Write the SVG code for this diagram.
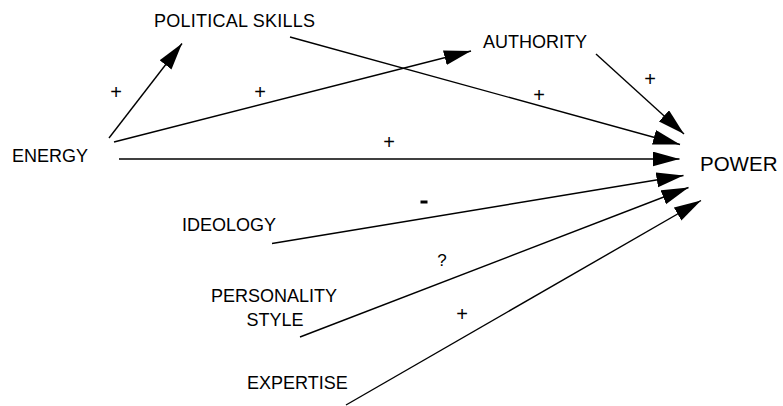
<svg xmlns="http://www.w3.org/2000/svg" width="783" height="406" viewBox="0 0 783 406">
<defs>
<style>
text{font-family:"Liberation Sans",Arial,sans-serif;fill:#000}
.n{font-size:18px}
.p{font-size:20.5px}
.l{font-size:20px;text-anchor:middle}
.q{font-size:17px;text-anchor:middle}
.c{stroke:#000;stroke-width:1.4;fill:none;marker-end:url(#ah)}
</style>
<marker id="ah" markerUnits="userSpaceOnUse" markerWidth="28" markerHeight="16" refX="27" refY="7.5" orient="auto">
<path d="M0,0 L27,7.5 L0,15 Z" fill="#000"/>
</marker>
</defs>
<rect width="783" height="406" fill="#fff"/>
<g id="connectors">
<line class="c" x1="109" y1="138" x2="182" y2="43.5"/>
<line class="c" x1="114" y1="142" x2="471" y2="51"/>
<line class="c" x1="290" y1="37" x2="680" y2="144.5"/>
<line class="c" x1="596" y1="54" x2="684" y2="134"/>
<line class="c" x1="119" y1="159" x2="679.5" y2="159"/>
<line class="c" x1="272" y1="243.5" x2="683.5" y2="175.5"/>
<line class="c" x1="300" y1="337" x2="688.5" y2="187.5"/>
<line class="c" x1="346" y1="405" x2="701" y2="200.5"/>
</g>
<g id="edge-labels">
<text class="l" x="116" y="99">+</text>
<text class="l" x="260" y="99">+</text>
<text class="l" x="389" y="149">+</text>
<text class="l" x="539" y="102">+</text>
<text class="l" x="650" y="86">+</text>
<rect x="420.5" y="200.5" width="7" height="3" fill="#000"/>
<text class="q" x="442" y="266">?</text>
<text class="l" x="462" y="321">+</text>
</g>
<g id="political-skills"><text class="n" x="154" y="27" textLength="161">POLITICAL SKILLS</text></g>
<g id="authority"><text class="n" x="483" y="48">AUTHORITY</text></g>
<g id="energy"><text class="n" x="12" y="162">ENERGY</text></g>
<g id="power"><text class="p" x="700" y="171">POWER</text></g>
<g id="ideology"><text class="n" x="182" y="231">IDEOLOGY</text></g>
<g id="personality-style"><text class="n" x="274" y="302" text-anchor="middle">PERSONALITY</text><text class="n" x="275" y="326" text-anchor="middle">STYLE</text></g>
<g id="expertise"><text class="n" x="247" y="389">EXPERTISE</text></g>
</svg>
